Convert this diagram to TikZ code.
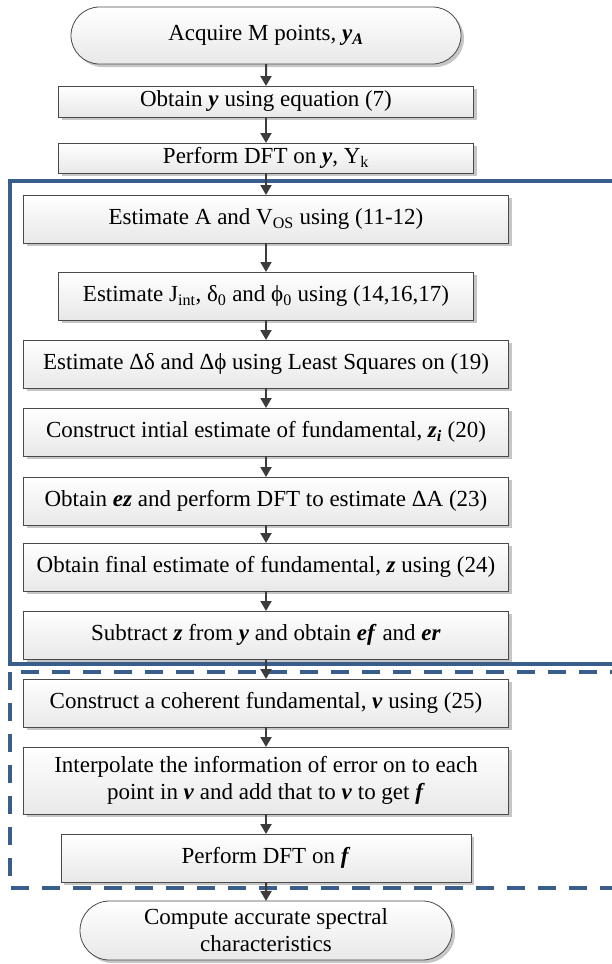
\documentclass[tikz,border=0pt]{standalone}
\usepackage{fontspec}
\setmainfont{Liberation Serif}
\usetikzlibrary{arrows.meta,positioning,shapes.misc,shadows,backgrounds}
\definecolor{frameblue}{HTML}{3A5E8C}
\definecolor{boxline}{HTML}{4A4A4A}
\definecolor{arrowgray}{HTML}{3C3C3C}
\definecolor{shadowgray}{HTML}{C6C6C6}
\tikzset{
    every picture/.style={line join=miter},
    stepbox/.style={draw=boxline,line width=0.8pt,top color=white,bottom color=black!9,
      minimum height=48pt,inner sep=2pt,outer sep=0pt,align=center,
      drop shadow={shadow xshift=3pt,shadow yshift=-3pt,fill=shadowgray,opacity=1}},
    widebox/.style={minimum width=485pt},
    narrowbox/.style={minimum width=415pt},
    termbox/.style={stepbox,rounded rectangle},
    flowarrow/.style={-{Triangle[length=10pt,width=11pt]},draw=arrowgray,line width=2pt},
    solidframe/.style={draw=frameblue,line width=4pt},
    dashframe/.style={draw=frameblue,line width=4pt,dash pattern=on 18pt off 13pt}
}
\newcommand{\bv}[1]{\textbf{\textit{#1}}}

\begin{document}
\begin{tikzpicture}[x=1pt,y=1pt,font=\fontsize{23}{27}\selectfont]
    \useasboundingbox (0,0) rectangle (611,-964);
    \node[termbox,minimum width=394pt,minimum height=57pt] (acq) at (266,-35.5) {Acquire M points, \bv{y}\textsubscript{\bv{A}}};
    \node[stepbox,narrowbox,minimum height=31pt,below=22pt of acq] (obty) {Obtain \bv{y} using equation (7)};
    \node[stepbox,narrowbox,minimum height=30pt,below=26pt of obty] (dfty) {Perform DFT on \bv{y}, Y\textsubscript{k}};
    \node[stepbox,widebox,below=22pt of dfty] (estA) {Estimate A and V\textsubscript{OS} using (11-12)};
    \node[stepbox,narrowbox,below=29pt of estA] (estJ) {Estimate J\textsubscript{int}, δ\textsubscript{0} and ϕ\textsubscript{0} using (14,16,17)};
    \node[stepbox,widebox,below=20pt of estJ] (estD) {Estimate Δδ and Δϕ using Least Squares on (19)};
    \node[stepbox,widebox,below=20pt of estD] (zini) {Construct intial estimate of fundamental, \bv{z\textsubscript{i}} (20)};
    \node[stepbox,widebox,below=21pt of zini] (ezdft) {Obtain \bv{ez} and perform DFT to estimate ΔA (23)};
    \node[stepbox,widebox,below=18pt of ezdft] (zfin) {Obtain final estimate of fundamental, \bv{z} using (24)};
    \node[stepbox,widebox,below=20pt of zfin] (subz) {Subtract \bv{z} from \bv{y} and obtain \bv{ef} and \bv{er}};
    \node[stepbox,widebox,below=20pt of subz] (cohv) {Construct a coherent fundamental, \bv{v} using (25)};
    \node[stepbox,widebox,minimum height=67pt,below=20pt of cohv] (interp) {Interpolate the information of error on to each\\point in \bv{v} and add that to \bv{v} to get \bv{f}};
    \node[stepbox,minimum width=410pt,below=20pt of interp] (dftf) {Perform DFT on \bv{f}};
    \node[termbox,minimum width=376pt,minimum height=59pt,below=19pt of dftf] (spec) {Compute accurate spectral\\characteristics};
    % frames round the two stages
    \begin{scope}[on background layer]
        \draw[solidframe] (10,-181) rectangle (630,-664);
        \draw[dashframe] (10,-672) rectangle (630,-888);
    \end{scope}
    \draw[flowarrow] (acq)--(obty);
    \draw[flowarrow] (obty)--(dfty);
    \draw[flowarrow] (dfty)--(estA);
    \draw[flowarrow] (estA)--(estJ);
    \draw[flowarrow] (estJ)--(estD);
    \draw[flowarrow] (estD)--(zini);
    \draw[flowarrow] (zini)--(ezdft);
    \draw[flowarrow] (ezdft)--(zfin);
    \draw[flowarrow] (zfin)--(subz);
    \draw[flowarrow] (subz)--(cohv);
    \draw[flowarrow] (cohv)--(interp);
    \draw[flowarrow] (interp)--(dftf);
    \draw[flowarrow] (dftf)--(spec);
\end{tikzpicture}
\end{document}
